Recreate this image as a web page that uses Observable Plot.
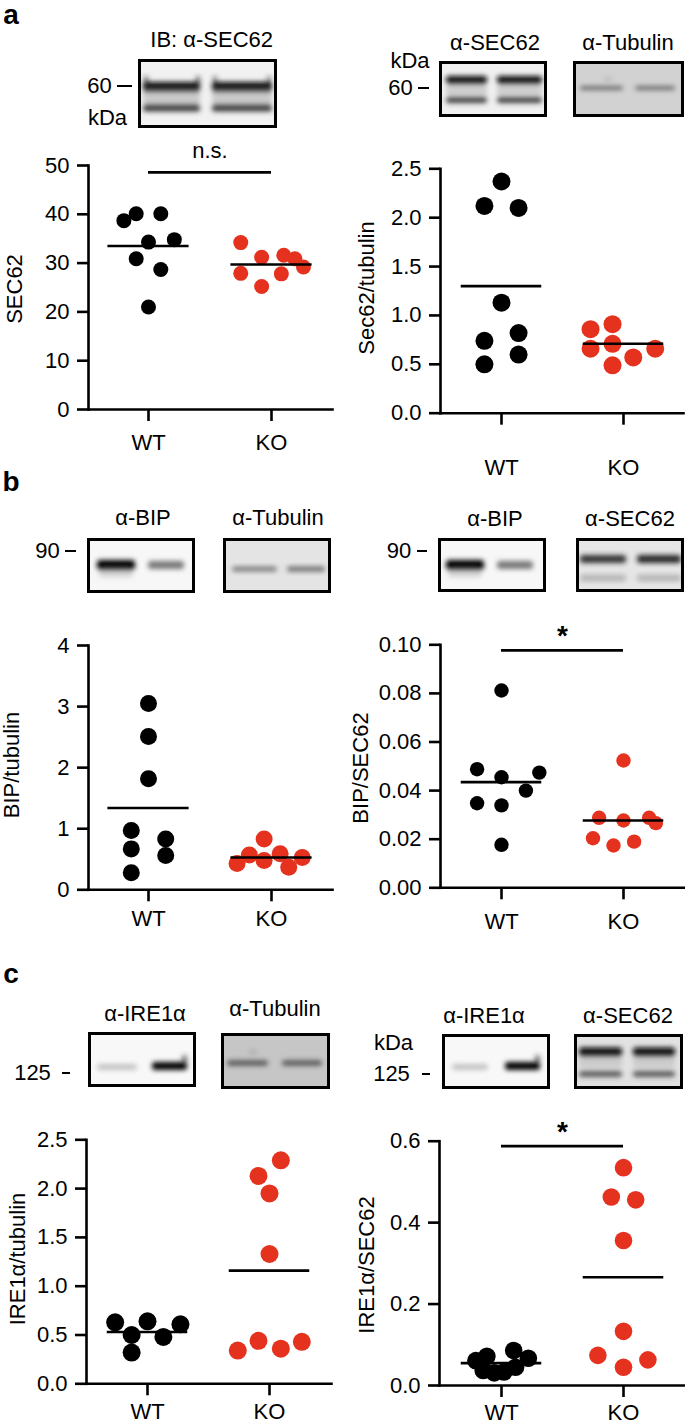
<!DOCTYPE html>
<html><head><meta charset="utf-8">
<script src="https://cdn.jsdelivr.net/npm/d3@7"></script>
<script src="https://cdn.jsdelivr.net/npm/@observablehq/plot@0.6"></script>
<style>
body{margin:0;background:#fff;}
#fig{position:relative;width:685px;height:1426px;overflow:hidden;font-family:"Liberation Sans",Arial,sans-serif;color:#000;background:#fff;}
.t{position:absolute;white-space:nowrap;line-height:1;font-size:22px;}
.abs{position:absolute;}
</style></head><body><div id="fig"></div>
<script>
// ---------------- DATA ----------------
const categories = ["WT", "KO"];
const groupColors = ["#000000", "#e5321f"];

// a, left: SEC62
const aL_wt  = [38.7, 40.1, 40.1, 34.3, 34.8, 30.9, 28.7, 21.0];
const aL_wtJ = [-0.2, -0.1, 0.1, 0, 0.21, -0.1, 0.1, 0];
const aL_ko  = [34.2, 31.2, 31.6, 30.9, 29.2, 27.9, 27.8, 25.2];
const aL_koJ = [-0.25, -0.08, 0.1, 0.19, 0.26, -0.25, 0.08, -0.08];
const aL_means = [33.5, 29.7];
const aL_ticks = [0, 10, 20, 30, 40, 50];

// a, right: Sec62/tubulin
const aR_wt  = [2.37, 2.12, 2.10, 1.13, 0.74, 0.82, 0.60, 0.50];
const aR_wtJ = [0, -0.14, 0.14, 0, -0.14, 0.14, 0.14, -0.14];
const aR_ko  = [0.86, 0.91, 0.71, 0.66, 0.57, 0.66, 0.49];
const aR_koJ = [-0.27, -0.09, -0.09, -0.27, 0.08, 0.26, -0.09];
const aR_means = [1.30, 0.71];
const aR_ticks = [0, 0.5, 1.0, 1.5, 2.0, 2.5];

// b, left: BIP/tubulin
const bL_wt  = [3.05, 2.51, 1.82, 0.97, 0.83, 0.67, 0.56, 0.28];
const bL_wtJ = [0, 0, 0, -0.14, 0.14, -0.14, 0.14, -0.14];
const bL_ko  = [0.83, 0.57, 0.59, 0.53, 0.43, 0.48, 0.37];
const bL_koJ = [-0.06, -0.18, 0.07, 0.25, -0.28, -0.06, 0.14];
const bL_means = [1.34, 0.53];
const bL_ticks = [0, 1, 2, 3, 4];

// b, right: BIP/SEC62
const bR_wt  = [0.0812, 0.0488, 0.0455, 0.0474, 0.0400, 0.0348, 0.0339, 0.0177];
const bR_wtJ = [0, -0.2, 0, 0.31, 0.2, -0.2, 0, 0];
const bR_ko  = [0.0524, 0.0288, 0.0277, 0.0288, 0.0266, 0.0204, 0.0190, 0.0174];
const bR_koJ = [0, -0.2, 0, 0.21, 0.265, -0.25, 0.087, -0.082];
const bR_means = [0.0435, 0.0277];
const bR_ticks = [0, 0.02, 0.04, 0.06, 0.08, 0.10];

// c, left: IRE1α/tubulin
const cL_wt  = [0.63, 0.64, 0.61, 0.50, 0.48, 0.32];
const cL_wtJ = [-0.265, 0, 0.27, -0.13, 0.13, -0.13];
const cL_ko  = [2.29, 2.13, 1.95, 1.33, 0.34, 0.44, 0.36, 0.43];
const cL_koJ = [0.093, -0.09, 0, 0, -0.26, -0.09, 0.093, 0.265];
const cL_means = [0.53, 1.16];
const cL_ticks = [0, 0.5, 1.0, 1.5, 2.0, 2.5];

// c, right: IRE1α/SEC62
const cR_wt  = [0.061, 0.072, 0.086, 0.067, 0.037, 0.031, 0.033, 0.045];
const cR_wtJ = [-0.21, -0.12, 0.1, 0.22, -0.15, -0.06, 0.02, 0.115];
const cR_ko  = [0.535, 0.463, 0.456, 0.356, 0.133, 0.074, 0.063, 0.045];
const cR_koJ = [0, -0.1, 0.1, 0, 0, -0.21, 0.2, 0];
const cR_means = [0.055, 0.266];
const cR_ticks = [0, 0.2, 0.4, 0.6];

// ---------------- HELPERS ----------------
const fig = document.getElementById("fig");
const FONT = '"Liberation Sans", Arial, sans-serif';

function T(text, cx, cy, o = {}) {
  const d = document.createElement("div");
  d.className = "t";
  d.textContent = text;
  d.style.left = cx + "px";
  d.style.top = cy + "px";
  if (o.size) d.style.fontSize = o.size + "px";
  if (o.weight) d.style.fontWeight = o.weight;
  if (o.lh) d.style.lineHeight = o.lh;
  d.style.transform = "translate(-50%,-50%)" + (o.rot ? ` rotate(${o.rot}deg)` : "");
  fig.appendChild(d);
}
function dash(x0, x1, y) {
  const d = document.createElement("div");
  d.className = "abs";
  Object.assign(d.style, {left: x0 + "px", top: (y - 1.25) + "px", width: (x1 - x0) + "px", height: "2.5px", background: "#000"});
  fig.appendChild(d);
}
let blotId = 0;
function blot(x, y, w, h, bg, bands) {
  const id = "bl" + (blotId++);
  const ns = "http://www.w3.org/2000/svg";
  const svg = document.createElementNS(ns, "svg");
  svg.setAttribute("width", w); svg.setAttribute("height", h);
  svg.style.position = "absolute"; svg.style.left = x + "px"; svg.style.top = y + "px";
  let s = `<defs><filter id="${id}" x="-30%" y="-80%" width="160%" height="260%"><feGaussianBlur stdDeviation="2.4"/></filter></defs>`;
  s += `<rect x="0" y="0" width="${w}" height="${h}" fill="${bg}"/>`;
  s += `<g filter="url(#${id})">`;
  for (const b of bands) {
    s += `<rect x="${b[0]}" y="${b[2] - b[3] / 2}" width="${b[1] - b[0]}" height="${b[3]}" rx="3" fill="${b[4]}" opacity="${b[5] ?? 1}"/>`;
  }
  s += `</g><rect x="1.5" y="1.5" width="${w - 3}" height="${h - 3}" fill="none" stroke="#000" stroke-width="3"/>`;
  svg.innerHTML = s;
  fig.appendChild(svg);
}

function panel(cfg) {
  const {left, top, width, height, frame, xWT, xKO, wt, wtJ, ko, koJ, means, ticks, fmt, r, tickPadX, sig} = cfg;
  const [fx0, fx1, fy0, fy1] = frame;
  const step = xKO - xWT;
  const xDomain = [1 - (xWT - fx0) / step, 2 + (fx1 - xKO) / step];
  const pts = [
    ...wt.map((v, i) => ({g: categories[0], x: 1 + wtJ[i], y: v})),
    ...ko.map((v, i) => ({g: categories[1], x: 2 + koJ[i], y: v}))
  ];
  const meanRows = means.map((m, i) => ({y: m, x1: i + 1 - 0.33, x2: i + 1 + 0.33}));
  const marks = [
    Plot.dot(pts, {x: "x", y: "y", r, fill: "g", stroke: "none"}),
    Plot.ruleY(meanRows, {y: "y", x1: "x1", x2: "x2", strokeWidth: 2.6, stroke: "#000"}),
    Plot.axisY({ticks, tickFormat: fmt, tickSize: 11, tickPadding: 8, strokeWidth: 2.6, label: null}),
    Plot.axisX({ticks: [1, 2], tickFormat: d => categories[d - 1], tickSize: 12, tickPadding: tickPadX, strokeWidth: 2.6, label: null}),
    Plot.frame({anchor: "left", strokeWidth: 2.6}),
    Plot.frame({anchor: "bottom", strokeWidth: 2.6})
  ];
  if (sig) {
    marks.push(Plot.ruleY([{y: sig.y, x1: 1, x2: 2}], {y: "y", x1: "x1", x2: "x2", strokeWidth: 2.6}));
    marks.push(Plot.text([{x: 1.5, y: sig.y, t: sig.text}], {x: "x", y: "y", text: "t", dy: sig.dy, fontSize: sig.size, fontWeight: sig.weight || "normal"}));
  }
  const p = Plot.plot({
    width, height,
    marginLeft: fx0 - left, marginRight: left + width - fx1,
    marginTop: fy0 - top, marginBottom: top + height - fy1,
    x: {domain: xDomain, label: null},
    y: {domain: [ticks[0], ticks[ticks.length - 1]], label: null},
    color: {domain: categories, range: groupColors},
    style: {fontFamily: FONT, fontSize: "22px", background: "transparent", overflow: "visible", color: "#000"},
    marks
  });
  p.style.position = "absolute";
  p.style.left = left + "px";
  p.style.top = top + "px";
  p.style.maxWidth = "none";
  fig.appendChild(p);
}

// ---------------- PANEL LETTERS ----------------
T("a", 11, 15, {size: 28, weight: "bold"});
T("b", 11, 482, {size: 28, weight: "bold"});
T("c", 11, 974, {size: 28, weight: "bold"});

// ---------------- BLOTS ----------------
// a left
blot(138, 59, 139, 69, "#f1f1f1", [
  [5, 62, 28, 10, "#0b0b0b"], [74, 134, 28, 10, "#0b0b0b"],
  [5, 62, 38, 16, "#9a9a9a", 0.45], [74, 134, 38, 16, "#9a9a9a", 0.45],
  [5, 62, 49, 7, "#2a2a2a", 0.9], [74, 134, 49, 7, "#2a2a2a", 0.9],
  [6, 10, 22, 10, "#222", 0.7], [58, 62, 22, 10, "#222", 0.7], [75, 79, 22, 10, "#222", 0.6], [129, 133, 22, 10, "#222", 0.6]
]);
T("IB: α-SEC62", 211.7, 40);
T("60", 99.5, 86); dash(117, 132, 86);
T("kDa", 107.5, 118);
// a right
blot(439, 61, 108, 56, "#f0f0f0", [
  [7, 48, 19, 8, "#0d0d0d"], [58, 103, 19, 8, "#0d0d0d"],
  [7, 48, 29, 12, "#9a9a9a", 0.4], [58, 103, 29, 12, "#9a9a9a", 0.4],
  [7, 48, 39, 6, "#2e2e2e", 0.9], [58, 103, 39, 6, "#2e2e2e", 0.9]
]);
blot(573, 61, 111, 56, "#d2d2d2", [
  [7, 50, 27, 4, "#555", 0.85], [62, 102, 27, 4, "#555", 0.85], [30, 40, 18, 4, "#999", 0.4]
]);
T("α-SEC62", 495, 43); T("α-Tubulin", 628, 43);
T("kDa", 410, 61); T("60", 400.5, 88); dash(418, 429, 88);
// b left
blot(87, 538, 108, 55, "#f7f7f7", [
  [10, 48, 27, 10, "#050505"], [61, 97, 27, 8, "#6a6a6a", 0.9], [12, 46, 35, 8, "#999", 0.4]
]);
blot(223, 538, 108, 55, "#e4e4e4", [
  [9, 54, 31, 5, "#6a6a6a", 0.85], [64, 102, 31, 5, "#555", 0.85]
]);
T("α-BIP", 143, 518); T("α-Tubulin", 278, 518);
T("90", 47.5, 551); dash(65, 76, 551);
// b right
blot(438, 538, 108, 54, "#f7f7f7", [
  [8, 46, 27, 10, "#050505"], [59, 95, 27, 8, "#6a6a6a", 0.9], [10, 44, 35, 8, "#999", 0.4]
]);
blot(576, 538, 108, 54, "#e6e6e6", [
  [4, 50, 21, 8, "#2a2a2a", 0.95], [61, 105, 21, 8, "#1e1e1e", 0.95],
  [4, 50, 40, 7, "#aaa", 0.8], [61, 105, 40, 7, "#aaa", 0.8]
]);
T("α-BIP", 495, 519); T("α-SEC62", 630, 519);
T("90", 399, 551); dash(417, 427, 551);
// c left
blot(88, 1032, 108, 55, "#f8f8f8", [
  [9, 49, 35, 6, "#bdbdbd", 0.9], [64, 99, 34, 8, "#050505"], [94, 99, 27, 8, "#333", 0.7]
]);
blot(221, 1033, 109, 56, "#c6c6c6", [
  [6, 47, 30, 5, "#3a3a3a", 0.85], [61, 101, 30, 5, "#3a3a3a", 0.85], [28, 36, 19, 4, "#777", 0.4]
]);
T("α-IRE1α", 145, 1014); T("α-Tubulin", 275, 1009);
T("125", 32.5, 1073); dash(62, 70, 1073);
// c right
blot(442, 1034, 108, 55, "#f8f8f8", [
  [10, 46, 33, 6, "#bdbdbd", 0.9], [63, 98, 32, 8, "#050505"], [93, 98, 25, 8, "#333", 0.7]
]);
blot(574, 1034, 109, 55, "#e2e2e2", [
  [5, 48, 18, 9, "#0d0d0d"], [59, 101, 18, 9, "#0d0d0d"],
  [5, 48, 28, 12, "#aaa", 0.4], [59, 101, 28, 12, "#aaa", 0.4],
  [5, 48, 40, 6, "#4a4a4a", 0.9], [59, 101, 40, 6, "#4a4a4a", 0.9]
]);
T("α-IRE1α", 484, 1016); T("α-SEC62", 628, 1016);
T("kDa", 393.5, 1043); T("125", 391.5, 1074); dash(422, 430, 1074);

// ---------------- PLOTS ----------------
const f0 = d3.format(".0f"), f1 = d3.format(".1f"), f2 = d3.format(".2f");
panel({left: 0, top: 130, width: 340, height: 335, frame: [88, 332, 165, 409], xWT: 148, xKO: 271,
  wt: aL_wt, wtJ: aL_wtJ, ko: aL_ko, koJ: aL_koJ, means: aL_means, ticks: aL_ticks, fmt: f0, r: 7.5, tickPadX: 13,
  sig: {y: 48.6, text: "n.s.", dy: -21, size: 22}});
panel({left: 340, top: 130, width: 345, height: 355, frame: [440, 683, 168.3, 412.7], xWT: 501, xKO: 623,
  wt: aR_wt, wtJ: aR_wtJ, ko: aR_ko, koJ: aR_koJ, means: aR_means, ticks: aR_ticks, fmt: f1, r: 9, tickPadX: 34});
panel({left: 0, top: 600, width: 340, height: 335, frame: [88, 332, 645, 889.3], xWT: 148, xKO: 271,
  wt: bL_wt, wtJ: bL_wtJ, ko: bL_ko, koJ: bL_koJ, means: bL_means, ticks: bL_ticks, fmt: f0, r: 8.5, tickPadX: 9});
panel({left: 340, top: 600, width: 345, height: 335, frame: [440, 684, 644.3, 887.3], xWT: 501, xKO: 623,
  wt: bR_wt, wtJ: bR_wtJ, ko: bR_ko, koJ: bR_koJ, means: bR_means, ticks: bR_ticks, fmt: f2, r: 7.2, tickPadX: 14,
  sig: {y: 0.0977, text: "*", dy: -14, size: 28, weight: "bold"}});
panel({left: 0, top: 1095, width: 340, height: 331, frame: [86, 331, 1139.3, 1383.3], xWT: 147, xKO: 269,
  wt: cL_wt, wtJ: cL_wtJ, ko: cL_ko, koJ: cL_koJ, means: cL_means, ticks: cL_ticks, fmt: f1, r: 9, tickPadX: 8});
panel({left: 340, top: 1095, width: 345, height: 331, frame: [439, 684, 1140.7, 1385], xWT: 501, xKO: 623,
  wt: cR_wt, wtJ: cR_wtJ, ko: cR_ko, koJ: cR_koJ, means: cR_means, ticks: cR_ticks, fmt: f1, r: 8.8, tickPadX: 7,
  sig: {y: 0.588, text: "*", dy: -14, size: 28, weight: "bold"}});

// ---------------- Y-AXIS TITLES ----------------
T("SEC62", 15.3, 289, {rot: -90});
T("Sec62/tubulin", 366.7, 288, {rot: -90});
T("BIP/tubulin", 12, 765, {rot: -90});
T("BIP/SEC62", 361, 768, {rot: -90});
T("IRE1α/tubulin", 17.5, 1259, {rot: -90});
T("IRE1α/SEC62", 366.7, 1265, {rot: -90});
</script></body></html>
